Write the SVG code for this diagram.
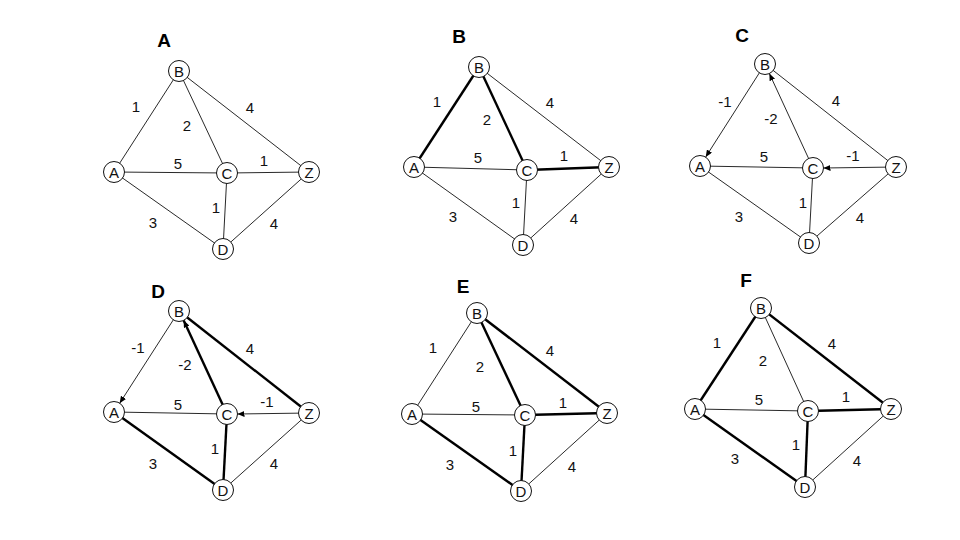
<svg xmlns="http://www.w3.org/2000/svg" width="960" height="540" viewBox="0 0 960 540">
<defs>
<style>
.e{stroke:#111;stroke-width:0.9;fill:none}
.t{stroke:#000;stroke-width:2.4;fill:none}
.n circle{fill:#fff;stroke:#111;stroke-width:1}
.n text,.w{font-family:"Liberation Sans",Arial,sans-serif;font-size:15px;fill:#111;text-anchor:middle}
.ttl{font-family:"Liberation Sans",Arial,sans-serif;font-size:19px;font-weight:bold;fill:#000;text-anchor:middle}
.a{marker-end:url(#ah)}
</style>
<marker id="ah" viewBox="0 0 7 6" refX="7" refY="3" markerWidth="7" markerHeight="6" orient="auto" markerUnits="userSpaceOnUse">
<path d="M0,0 L7,3 L0,6 z" fill="#000"/>
</marker>
</defs>
<rect width="960" height="540" fill="#fff"/>

<!-- Panel A -->
<g id="panelA">
<text class="ttl" x="164" y="47">A</text>
<g id="A-edges">
<line class="e" x1="114" y1="172" x2="179" y2="71"/>
<line class="e" x1="179" y1="71" x2="227" y2="173"/>
<line class="e" x1="179" y1="71" x2="309" y2="172"/>
<line class="e" x1="114" y1="172" x2="227" y2="173"/>
<line class="e" x1="227" y1="173" x2="309" y2="172"/>
<line class="e" x1="227" y1="173" x2="223" y2="249"/>
<line class="e" x1="114" y1="172" x2="223" y2="249"/>
<line class="e" x1="223" y1="249" x2="309" y2="172"/>
</g>
<g id="A-weights">
<text class="w" x="136" y="112">1</text>
<text class="w" x="187" y="131">2</text>
<text class="w" x="250" y="113">4</text>
<text class="w" x="178" y="169">5</text>
<text class="w" x="264" y="166">1</text>
<text class="w" x="216" y="213">1</text>
<text class="w" x="153" y="228">3</text>
<text class="w" x="274" y="229">4</text>
</g>
<g id="A-nA" class="n"><circle cx="114" cy="172" r="10.5"/><text x="114" y="177.5">A</text></g>
<g id="A-nB" class="n"><circle cx="179" cy="71" r="10.5"/><text x="179" y="76.5">B</text></g>
<g id="A-nC" class="n"><circle cx="227" cy="173" r="10.5"/><text x="227" y="178.5">C</text></g>
<g id="A-nZ" class="n"><circle cx="309" cy="172" r="10.5"/><text x="309" y="177.5">Z</text></g>
<g id="A-nD" class="n"><circle cx="223" cy="249" r="10.5"/><text x="223" y="254.5">D</text></g>
</g>

<!-- Panel B -->
<g id="panelB">
<text class="ttl" x="459" y="43">B</text>
<g id="B-edges">
<line class="t" x1="414" y1="167" x2="479" y2="67"/>
<line class="t" x1="479" y1="67" x2="527" y2="170"/>
<line class="e" x1="479" y1="67" x2="609" y2="167"/>
<line class="e" x1="414" y1="167" x2="527" y2="170"/>
<line class="t" x1="527" y1="170" x2="609" y2="167"/>
<line class="e" x1="527" y1="170" x2="523" y2="245"/>
<line class="e" x1="414" y1="167" x2="523" y2="245"/>
<line class="e" x1="523" y1="245" x2="609" y2="167"/>
</g>
<g id="B-weights">
<text class="w" x="437" y="107">1</text>
<text class="w" x="487" y="125">2</text>
<text class="w" x="550" y="108">4</text>
<text class="w" x="478" y="163">5</text>
<text class="w" x="564" y="161">1</text>
<text class="w" x="516" y="208">1</text>
<text class="w" x="453" y="222">3</text>
<text class="w" x="574" y="224">4</text>
</g>
<g id="B-nA" class="n"><circle cx="414" cy="167" r="10.5"/><text x="414" y="172.5">A</text></g>
<g id="B-nB" class="n"><circle cx="479" cy="67" r="10.5"/><text x="479" y="72.5">B</text></g>
<g id="B-nC" class="n"><circle cx="527" cy="170" r="10.5"/><text x="527" y="175.5">C</text></g>
<g id="B-nZ" class="n"><circle cx="609" cy="167" r="10.5"/><text x="609" y="172.5">Z</text></g>
<g id="B-nD" class="n"><circle cx="523" cy="245" r="10.5"/><text x="523" y="250.5">D</text></g>
</g>

<!-- Panel C -->
<g id="panelC">
<text class="ttl" x="742" y="42">C</text>
<g id="C-edges">
<line class="e a" x1="765" y1="64" x2="705.7" y2="157"/>
<line class="e a" x1="813" y1="168" x2="769.4" y2="73.6"/>
<line class="e" x1="765" y1="64" x2="896" y2="167"/>
<line class="e" x1="700" y1="166" x2="813" y2="168"/>
<line class="e a" x1="896" y1="167" x2="823.5" y2="168"/>
<line class="e" x1="813" y1="168" x2="809" y2="243"/>
<line class="e" x1="700" y1="166" x2="809" y2="243"/>
<line class="e" x1="809" y1="243" x2="896" y2="167"/>
</g>
<g id="C-weights">
<text class="w" x="725" y="107">-1</text>
<text class="w" x="771" y="124">-2</text>
<text class="w" x="836" y="106">4</text>
<text class="w" x="764" y="162">5</text>
<text class="w" x="853" y="161">-1</text>
<text class="w" x="803" y="208">1</text>
<text class="w" x="739" y="222">3</text>
<text class="w" x="860" y="223">4</text>
</g>
<g id="C-nA" class="n"><circle cx="700" cy="166" r="10.5"/><text x="700" y="171.5">A</text></g>
<g id="C-nB" class="n"><circle cx="765" cy="64" r="10.5"/><text x="765" y="69.5">B</text></g>
<g id="C-nC" class="n"><circle cx="813" cy="168" r="10.5"/><text x="813" y="173.5">C</text></g>
<g id="C-nZ" class="n"><circle cx="896" cy="167" r="10.5"/><text x="896" y="172.5">Z</text></g>
<g id="C-nD" class="n"><circle cx="809" cy="243" r="10.5"/><text x="809" y="248.5">D</text></g>
</g>

<!-- Panel D -->
<g id="panelD">
<text class="ttl" x="158" y="298">D</text>
<g id="D-edges">
<line class="e a" x1="179" y1="311" x2="119.7" y2="403.2"/>
<line class="t a" x1="227" y1="414" x2="183.7" y2="320.5"/>
<line class="t" x1="179" y1="311" x2="309" y2="413"/>
<line class="e" x1="114" y1="412" x2="227" y2="414"/>
<line class="e a" x1="309" y1="413" x2="237.5" y2="414"/>
<line class="t" x1="227" y1="414" x2="223" y2="490"/>
<line class="t" x1="114" y1="412" x2="223" y2="490"/>
<line class="e" x1="223" y1="490" x2="309" y2="413"/>
</g>
<g id="D-weights">
<text class="w" x="138" y="353">-1</text>
<text class="w" x="185" y="370">-2</text>
<text class="w" x="250" y="354">4</text>
<text class="w" x="178" y="410">5</text>
<text class="w" x="267" y="407">-1</text>
<text class="w" x="215" y="454">1</text>
<text class="w" x="153" y="469">3</text>
<text class="w" x="274" y="469">4</text>
</g>
<g id="D-nA" class="n"><circle cx="114" cy="412" r="10.5"/><text x="114" y="417.5">A</text></g>
<g id="D-nB" class="n"><circle cx="179" cy="311" r="10.5"/><text x="179" y="316.5">B</text></g>
<g id="D-nC" class="n"><circle cx="227" cy="414" r="10.5"/><text x="227" y="419.5">C</text></g>
<g id="D-nZ" class="n"><circle cx="309" cy="413" r="10.5"/><text x="309" y="418.5">Z</text></g>
<g id="D-nD" class="n"><circle cx="223" cy="490" r="10.5"/><text x="223" y="495.5">D</text></g>
</g>

<!-- Panel E -->
<g id="panelE">
<text class="ttl" x="463" y="293">E</text>
<g id="E-edges">
<line class="e" x1="412" y1="414" x2="477" y2="313"/>
<line class="t" x1="477" y1="313" x2="525" y2="415"/>
<line class="t" x1="477" y1="313" x2="607" y2="413"/>
<line class="e" x1="412" y1="414" x2="525" y2="415"/>
<line class="t" x1="525" y1="415" x2="607" y2="413"/>
<line class="t" x1="525" y1="415" x2="521" y2="491"/>
<line class="t" x1="412" y1="414" x2="521" y2="491"/>
<line class="e" x1="521" y1="491" x2="607" y2="413"/>
</g>
<g id="E-weights">
<text class="w" x="433" y="353">1</text>
<text class="w" x="480" y="372">2</text>
<text class="w" x="550" y="356">4</text>
<text class="w" x="476" y="412">5</text>
<text class="w" x="563" y="408">1</text>
<text class="w" x="513" y="456">1</text>
<text class="w" x="450" y="470">3</text>
<text class="w" x="572" y="472">4</text>
</g>
<g id="E-nA" class="n"><circle cx="412" cy="414" r="10.5"/><text x="412" y="419.5">A</text></g>
<g id="E-nB" class="n"><circle cx="477" cy="313" r="10.5"/><text x="477" y="318.5">B</text></g>
<g id="E-nC" class="n"><circle cx="525" cy="415" r="10.5"/><text x="525" y="420.5">C</text></g>
<g id="E-nZ" class="n"><circle cx="607" cy="413" r="10.5"/><text x="607" y="418.5">Z</text></g>
<g id="E-nD" class="n"><circle cx="521" cy="491" r="10.5"/><text x="521" y="496.5">D</text></g>
</g>

<!-- Panel F -->
<g id="panelF">
<text class="ttl" x="746" y="287">F</text>
<g id="F-edges">
<line class="t" x1="695" y1="409" x2="761" y2="308"/>
<line class="e" x1="761" y1="308" x2="808" y2="411"/>
<line class="t" x1="761" y1="308" x2="891" y2="409"/>
<line class="e" x1="695" y1="409" x2="808" y2="411"/>
<line class="t" x1="808" y1="411" x2="891" y2="409"/>
<line class="t" x1="808" y1="411" x2="805" y2="487"/>
<line class="t" x1="695" y1="409" x2="805" y2="487"/>
<line class="e" x1="805" y1="487" x2="891" y2="409"/>
</g>
<g id="F-weights">
<text class="w" x="717" y="348">1</text>
<text class="w" x="763" y="366">2</text>
<text class="w" x="832" y="349">4</text>
<text class="w" x="759" y="405">5</text>
<text class="w" x="846" y="402">1</text>
<text class="w" x="796" y="450">1</text>
<text class="w" x="735" y="464">3</text>
<text class="w" x="857" y="466">4</text>
</g>
<g id="F-nA" class="n"><circle cx="695" cy="409" r="10.5"/><text x="695" y="414.5">A</text></g>
<g id="F-nB" class="n"><circle cx="761" cy="308" r="10.5"/><text x="761" y="313.5">B</text></g>
<g id="F-nC" class="n"><circle cx="808" cy="411" r="10.5"/><text x="808" y="416.5">C</text></g>
<g id="F-nZ" class="n"><circle cx="891" cy="409" r="10.5"/><text x="891" y="414.5">Z</text></g>
<g id="F-nD" class="n"><circle cx="805" cy="487" r="10.5"/><text x="805" y="492.5">D</text></g>
</g>
</svg>
